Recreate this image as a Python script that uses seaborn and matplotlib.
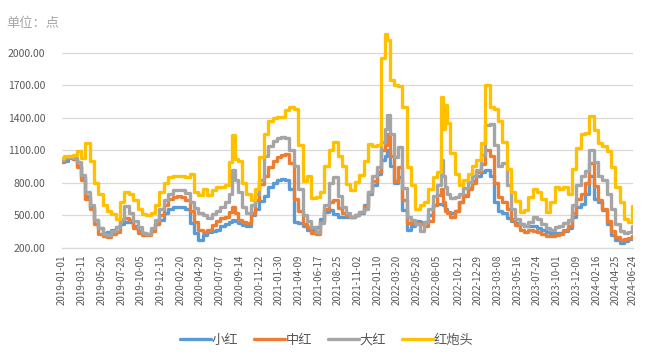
import matplotlib
matplotlib.use("Agg")
import matplotlib.pyplot as plt
import seaborn as sns
import pandas as pd

# ---------------- data ----------------
series_names = ["小红", "中红", "大红", "红炮头"]
colors = ["#5B9BD5", "#ED7D31", "#A5A5A5", "#FFC000"]

# semi-monthly sampling dates (1st and 15th) 2019-01-01 .. 2024-06-15
grid_dates = pd.date_range("2019-01-01", "2024-06-15", freq="SMS")
extra_dates = ["2020-08-24", "2022-02-09", "2022-08-25", "2022-09-08", "2024-06-24"]

xiaohong = [
    # 2019
    990, 1000, 1030, 1020, 960, 850, 680, 580, 460, 380, 340, 350,
    370, 390, 420, 440, 440, 400, 360, 340, 330, 370, 420, 460,
    # 2020
    520, 560, 580, 580, 575, 560, 430, 340, 270, 320, 345, 355,
    365, 400, 420, 440, 450, 430, 410, 400, 500, 560, 630, 680,
    # 2021
    760, 800, 830, 840, 830, 740, 440, 430, 400, 370, 370, 390,
    470, 530, 550, 510, 490, 490, 490, 490, 500, 520, 600, 700,
    # 2022
    780, 880, 1010, 1100, 960, 800, 850, 550, 370, 400, 450, 440,
    440, 500, 600, 610, 600, 530, 520, 540, 620, 680, 750, 820,
    # 2023
    860, 900, 920, 860, 620, 540, 520, 480, 450, 430, 420, 400,
    400, 400, 380, 370, 350, 340, 340, 340, 360, 380, 490, 580,
    # 2024
    610, 700, 860, 650, 620, 550, 420, 320, 270, 250, 260, 280,
]
xiaohong_extra = [460, 1050, 610, 560, 310]

zhonghong = [
    1000, 1030, 1040, 1020, 950, 830, 650, 560, 420, 330, 310, 300,
    330, 350, 460, 480, 460, 380, 340, 320, 320, 360, 420, 500,
    600, 650, 670, 675, 670, 640, 540, 440, 370, 345, 370, 410,
    450, 480, 490, 530, 520, 460, 440, 430, 520, 640, 790, 860,
    950, 1000, 1040, 1060, 1070, 980, 650, 540, 420, 390, 340, 330,
    440, 560, 620, 645, 570, 520, 500, 490, 500, 530, 580, 720,
    820, 900, 1100, 1250, 1050, 820, 950, 640, 430, 430, 430, 420,
    400, 450, 600, 690, 620, 520, 490, 540, 620, 690, 740, 800,
    900, 970, 1100, 1050, 800, 670, 620, 560, 470, 410, 370, 350,
    370, 360, 350, 330, 310, 310, 320, 330, 370, 400, 520, 650,
    700, 800, 980, 770, 640, 560, 450, 360, 300, 270, 280, 290,
]
zhonghong_extra = [580, 1150, 740, 540, 310]

dahong = [
    1010, 1040, 1040, 1030, 990, 870, 720, 600, 460, 380, 330, 320,
    360, 390, 470, 590, 520, 450, 390, 340, 330, 380, 460, 560,
    640, 700, 730, 735, 735, 710, 620, 570, 520, 500, 480, 510,
    540, 580, 620, 700, 830, 720, 580, 520, 600, 700, 830, 1050,
    1140, 1190, 1210, 1225, 1210, 1100, 960, 740, 500, 450, 390, 345,
    430, 600, 800, 850, 680, 580, 520, 490, 500, 530, 560, 720,
    860, 950, 1180, 1430, 1250, 1040, 1130, 750, 490, 460, 420, 360,
    440, 560, 680, 780, 860, 700, 665, 670, 700, 750, 810, 860,
    920, 1060, 1330, 1340, 1150, 960, 980, 780, 560, 470, 420, 400,
    440, 490, 470, 420, 380, 370, 390, 400, 430, 460, 600, 780,
    860, 910, 1100, 990, 860, 830, 700, 560, 420, 360, 340, 350,
]
dahong_extra = [920, 1300, 1010, 760, 400]

hongpaotou = [
    1030, 1050, 1050, 1060, 1090, 1030, 1170, 1000, 800, 700, 600, 540,
    510, 470, 620, 720, 700, 640, 560, 510, 500, 520, 600, 720,
    800, 850, 860, 860, 860, 850, 880, 720, 690, 740, 690, 730,
    760, 760, 780, 990, 1020, 1000, 800, 700, 640, 740, 1040, 1250,
    1370, 1400, 1410, 1410, 1470, 1500, 1480, 1150, 820, 860, 660, 670,
    720, 960, 1100, 1175, 1050, 960, 790, 735, 810, 870, 1000, 1160,
    1140, 1150, 1950, 2120, 1750, 1705, 1690, 1500, 950, 780, 560, 600,
    620, 740, 850, 900, 1300, 1350, 1080, 880, 780, 830, 880, 960,
    1010, 1170, 1700, 1500, 1480, 1370, 1180, 930, 720, 630, 530, 550,
    670, 740, 720, 650, 530, 620, 760, 740, 760, 700, 930, 1120,
    1250, 1260, 1420, 1290, 1170, 1140, 1090, 950, 760, 620, 470, 440,
]
hongpaotou_extra = [1240, 2170, 1590, 1520, 590]

tick_labels = [
    "2019-01-01", "2019-03-11", "2019-05-20", "2019-07-28", "2019-10-05",
    "2019-12-13", "2020-02-20", "2020-04-29", "2020-07-07", "2020-09-14",
    "2020-11-22", "2021-01-30", "2021-04-09", "2021-06-17", "2021-08-25",
    "2021-11-02", "2022-01-10", "2022-03-20", "2022-05-28", "2022-08-05",
    "2022-10-21", "2022-12-29", "2023-03-08", "2023-05-16", "2023-07-24",
    "2023-10-01", "2023-12-09", "2024-02-16", "2024-04-25", "2024-06-24",
]
y_ticks = [200, 500, 800, 1100, 1400, 1700, 2000]

# ---------------- build long table ----------------
all_dates = list(grid_dates) + list(pd.to_datetime(extra_dates))
frames = []
for name, main, extra in zip(series_names,
                             [xiaohong, zhonghong, dahong, hongpaotou],
                             [xiaohong_extra, zhonghong_extra, dahong_extra, hongpaotou_extra]):
    frames.append(pd.DataFrame({"date": all_dates, "value": list(main) + list(extra), "series": name}))
df = pd.concat(frames, ignore_index=True).sort_values(["series", "date"])

# ---------------- plot ----------------
sns.set_theme(style="white")
plt.rcParams["font.family"] = ["Noto Sans CJK SC", "DejaVu Sans"]

fig = plt.figure(figsize=(6.5, 3.62), dpi=100)
ax = fig.add_axes([62 / 650, 1 - 248 / 362, (633 - 62) / 650, (248 - 31) / 362])

sns.lineplot(data=df, x="date", y="value", hue="series", hue_order=series_names,
             palette=colors, linewidth=2.4, ax=ax, legend=True, sort=True,
             estimator=None, drawstyle="steps-mid")

ax.set_xlim(pd.Timestamp(tick_labels[0]), pd.Timestamp(tick_labels[-1]))
ax.set_ylim(200, 2200)
ax.set_yticks(y_ticks)
ax.set_yticklabels([f"{v:.2f}" for v in y_ticks])
ax.set_xticks(pd.to_datetime(tick_labels))
ax.set_xticklabels(tick_labels, rotation=90)
ax.set_xlabel("")
ax.set_ylabel("")

ax.grid(axis="y", color="#D9D9D9", linewidth=0.9)
ax.grid(axis="x", visible=False)
ax.set_axisbelow(True)
for s in ["top", "right", "left"]:
    ax.spines[s].set_visible(False)
ax.spines["bottom"].set_color("#D9D9D9")
ax.spines["bottom"].set_linewidth(0.9)

ax.tick_params(axis="y", length=0, pad=12, labelsize=7.5, labelcolor="#595959")
ax.tick_params(axis="x", length=0, pad=5, labelsize=7, labelcolor="#595959")

handles, labels = ax.get_legend_handles_labels()
ax.get_legend().remove()
fig.legend(handles, labels, loc="center", bbox_to_anchor=(0.503, 0.06), ncol=4,
           frameon=False, fontsize=9.5, handlelength=2.3, handletextpad=0.1,
           columnspacing=1.2, labelcolor="#595959")

fig.text(6 / 650, 1 - 24 / 362, "单位：点", fontsize=9.5, color="#A6A6A6",
         ha="left", va="center")

fig.savefig("out.png", dpi=100)
